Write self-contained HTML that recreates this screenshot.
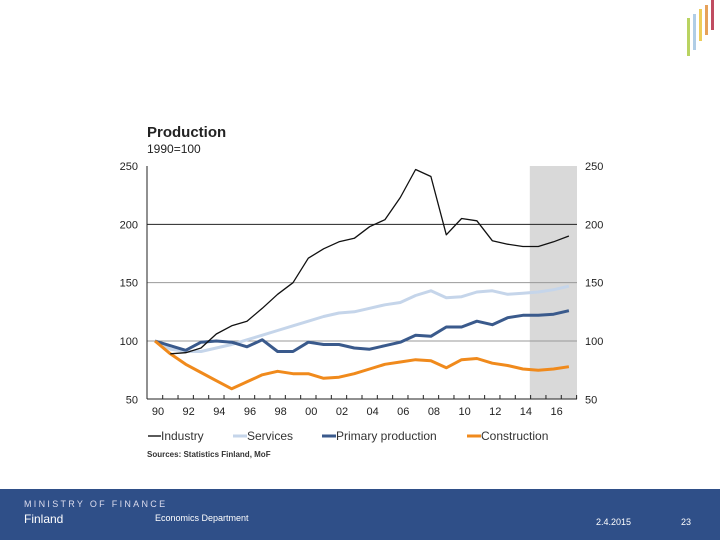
<!DOCTYPE html>
<html><head><meta charset="utf-8"><style>
body{margin:0;width:720px;height:540px;background:#fff;overflow:hidden;font-family:"Liberation Sans",sans-serif;position:relative}
</style></head><body>
<svg width="720" height="540" style="position:absolute;left:0;top:0">
<g>
<rect x="687" y="18" width="3" height="38" fill="#a8c83a" opacity="0.8"/>
<rect x="693" y="14" width="3" height="36" fill="#9cc0e0" opacity="0.8"/>
<rect x="699" y="9" width="3" height="32" fill="#e8c030" opacity="0.8"/>
<rect x="705" y="5" width="3" height="30" fill="#e08a30" opacity="0.8"/>
<rect x="711" y="0" width="3" height="30" fill="#b0203a" opacity="0.8"/>
</g>
<text x="147" y="137" font-size="15" font-weight="bold" fill="#222">Production</text>
<text x="147" y="153" font-size="12" fill="#222">1990=100</text>
<g id="plot"></g>
<g font-size="12" fill="#333">
<g><line x1="148" y1="436" x2="161" y2="436" stroke="#222" stroke-width="1.5"/><text x="161" y="440">Industry</text></g>
<g><line x1="233" y1="436" x2="247" y2="436" stroke="#c5d5ea" stroke-width="3"/><text x="247" y="440">Services</text></g>
<g><line x1="322" y1="436" x2="336" y2="436" stroke="#3a5a8c" stroke-width="3"/><text x="336" y="440">Primary production</text></g>
<g><line x1="467" y1="436" x2="481" y2="436" stroke="#f08a1c" stroke-width="3"/><text x="481" y="440">Construction</text></g>
</g>
<text x="147" y="457" font-size="8" font-weight="bold" fill="#333">Sources: Statistics Finland, MoF</text>
<rect x="0" y="489" width="720" height="51" fill="#2f4f88"/>
<text x="24" y="507" font-size="9" fill="#dde" letter-spacing="2.3">MINISTRY OF FINANCE</text>
<text x="24" y="523" font-size="12" fill="#fff">Finland</text>
<text x="155" y="521" font-size="9" fill="#fff">Economics Department</text>
<text x="596" y="525" font-size="9" fill="#fff">2.4.2015</text>
<text x="681" y="525" font-size="9" fill="#fff">23</text>
</svg>
<script>
const years=[1990,1991,1992,1993,1994,1995,1996,1997,1998,1999,2000,2001,2002,2003,2004,2005,2006,2007,2008,2009,2010,2011,2012,2013,2014,2015,2016,2017];
const industry=[null,89,90,94,106,113,117,128,140,150,171,179,185,188,198,204,223,247,241,191,205,203,186,183,181,181,185,190];
const services=[100,93,91,91,94,97,101,105,109,113,117,121,124,125,128,131,133,139,143,137,138,142,143,140,141,142,144,147];
const primary=[100,96,92,99,100,99,95,101,91,91,99,97,97,94,93,96,99,105,104,112,112,117,114,120,122,122,123,126];
const construction=[100,89,80,73,66,59,65,71,74,72,72,68,69,72,76,80,82,84,83,77,84,85,81,79,76,75,76,78];
const yTicks=[50,100,150,200,250];
const xLabels=["90","92","94","96","98","00","02","04","06","08","10","12","14","16"];
const forecastStart=2014.45;
const NS="http://www.w3.org/2000/svg";
const g=document.getElementById('plot');
const L=147,R=577,T=166,B=399;
function x(yr){return 155+(yr-1990)*15.33;}
function y(v){return 341-(v-100)*1.1667;}
function mk(tag,attrs,parent){const e=document.createElementNS(NS,tag);for(const k in attrs)e.setAttribute(k,attrs[k]);(parent||g).appendChild(e);return e;}
const sh=mk('rect',{x:x(forecastStart),y:T,width:R-x(forecastStart),height:B-T,fill:'#d9d9d9'});


yTicks.forEach(v=>{
 if(v>50&&v<250){const ln=mk('line',{x1:L,x2:R,y1:y(v),y2:y(v),stroke:v==200?'#222':'#999','stroke-width':1});
 
 }
 const t1=mk('text',{x:138,y:y(v)+4,'font-size':11,'text-anchor':'end',fill:'#222'});t1.textContent=v;
 
 
 const t2=mk('text',{x:585,y:y(v)+4,'font-size':11,fill:'#222'});t2.textContent=v;
 
 
});
mk('line',{x1:L,x2:L,y1:T,y2:B,stroke:'#222','stroke-width':1});
mk('line',{x1:L,x2:R,y1:B,y2:B,stroke:'#222','stroke-width':1});
for(let yr=1990;yr<=2017;yr++){mk('line',{x1:x(yr)+7.7,x2:x(yr)+7.7,y1:B,y2:B-4,stroke:'#222'});}
xLabels.forEach((lab,i)=>{const t=mk('text',{x:x(1990+2*i)+3,y:415,'font-size':11,'text-anchor':'middle',fill:'#222'});t.textContent=lab;
 
 });
function line(data,col,w,name){let d='';data.forEach((v,i)=>{if(v==null)return;d+=(d?'L':'M')+x(years[i]).toFixed(1)+','+y(v).toFixed(1);});
 const p=mk('path',{d:d,fill:'none',stroke:col,'stroke-width':w,'stroke-linejoin':'round'});
 
 }
line(services,'#c5d5ea',3,'services-line');
line(primary,'#3a5a8c',3,'primary-production-line');
line(construction,'#f08a1c',3,'construction-line');
line(industry,'#111',1.3,'industry-line');
</script>
</body></html>
